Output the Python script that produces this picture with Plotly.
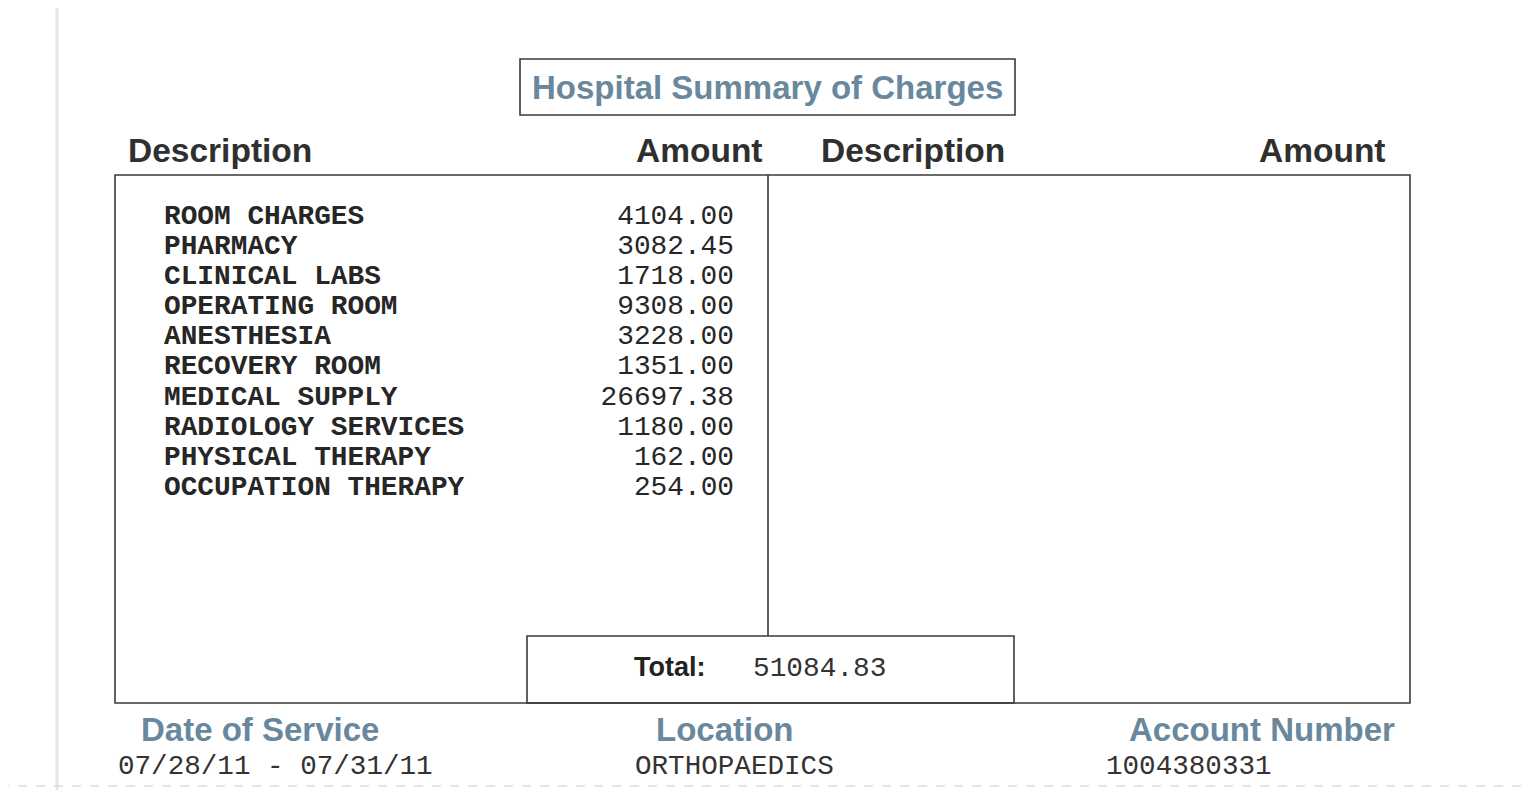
import plotly.graph_objects as go

# page is drawn in pixel coordinates of the scanned sheet
W, H = 1535, 790
PAD = 8  # body margin of the html page

title = "Hospital Summary of Charges"
headers = ["Description", "Amount", "Description", "Amount"]

descriptions = [
    "ROOM CHARGES",
    "PHARMACY",
    "CLINICAL LABS",
    "OPERATING ROOM",
    "ANESTHESIA",
    "RECOVERY ROOM",
    "MEDICAL SUPPLY",
    "RADIOLOGY SERVICES",
    "PHYSICAL THERAPY",
    "OCCUPATION THERAPY",
]
amounts = [4104.00, 3082.45, 1718.00, 9308.00, 3228.00,
           1351.00, 26697.38, 1180.00, 162.00, 254.00]
total = 51084.83

footer_labels = ["Date of Service", "Location", "Account Number"]
footer_values = ["07/28/11 - 07/31/11", "ORTHOPAEDICS", "1004380331"]

BLUE = "#6a889d"
DARK = "#2f2f2f"
LINE = "#3a3a3a"
MONO = "Liberation Mono, Courier New, monospace"
SANS = "Liberation Sans, Arial, sans-serif"

first_row = 217
row_step = 30.1
row_y = [first_row + i * row_step for i in range(len(descriptions))]

fig = go.Figure()

fig.add_trace(go.Scatter(
    x=[164] * len(descriptions), y=row_y,
    text=[f"<b>{d}</b>" for d in descriptions], mode="text",
    textposition="middle right",
    textfont=dict(family=MONO, size=27.8, color="#262626"),
    hoverinfo="skip", showlegend=False,
))
fig.add_trace(go.Scatter(
    x=[734] * len(amounts), y=row_y,
    text=[f"{a:.2f}" for a in amounts], mode="text", textposition="middle left",
    textfont=dict(family=MONO, size=27.8, color="#262626"),
    hoverinfo="skip", showlegend=False,
))

# boxes and rules
line = dict(color=LINE, width=1.6)
fig.add_shape(type="rect", x0=520, x1=1015, y0=59, y1=115, line=line)
fig.add_shape(type="rect", x0=115, x1=1410, y0=175, y1=703, line=line)
fig.add_shape(type="line", x0=768, x1=768, y0=175, y1=636, line=line)
fig.add_shape(type="rect", x0=527, x1=1014, y0=636, y1=703, line=line)
# scan artefacts: page edge
fig.add_shape(type="line", x0=57, x1=57, y0=0, y1=790,
              line=dict(color="#e9e5e5", width=3))
fig.add_shape(type="line", x0=0, x1=1535, y0=786, y1=786,
              line=dict(color="#dddddd", width=1.5, dash="dash"))

ann = []
ann.append(dict(x=767, y=87, text=f"<b>{title}</b>", xanchor="center",
                font=dict(family=SANS, size=33, color=BLUE)))
for hx, anchor, h in zip([126, 765, 819, 1388],
                         ["left", "right", "left", "right"], headers):
    ann.append(dict(x=hx, y=150, text=f"<b>{h}</b>", xanchor=anchor,
                    font=dict(family=SANS, size=33.5, color=DARK)))

ann.append(dict(x=707, y=667, text="<b>Total:</b>", xanchor="right",
                font=dict(family=SANS, size=27, color="#222222")))
ann.append(dict(x=751, y=668, text=f"{total:.2f}", xanchor="left",
                font=dict(family=MONO, size=27.8, color="#333333")))

for fx, anchor, lab in zip([139, 725, 1397], ["left", "center", "right"], footer_labels):
    ann.append(dict(x=fx, y=729, text=f"<b>{lab}</b>", xanchor=anchor,
                    font=dict(family=SANS, size=33, color=BLUE)))
for fx, val in zip([116, 633, 1104], footer_values):
    ann.append(dict(x=fx, y=766, text=val, xanchor="left",
                    font=dict(family=MONO, size=27.6, color="#333333")))

for a in ann:
    a.update(xref="x", yref="y", yanchor="middle", showarrow=False)

fig.update_layout(
    width=W, height=H,
    margin=dict(l=0, r=0, t=0, b=0),
    paper_bgcolor="white", plot_bgcolor="white",
    xaxis=dict(range=[PAD, W + PAD], visible=False, fixedrange=True),
    yaxis=dict(range=[H + PAD, PAD], visible=False, fixedrange=True),
    annotations=ann,
)

fig.write_html("out.html", config={"displayModeBar": False})
